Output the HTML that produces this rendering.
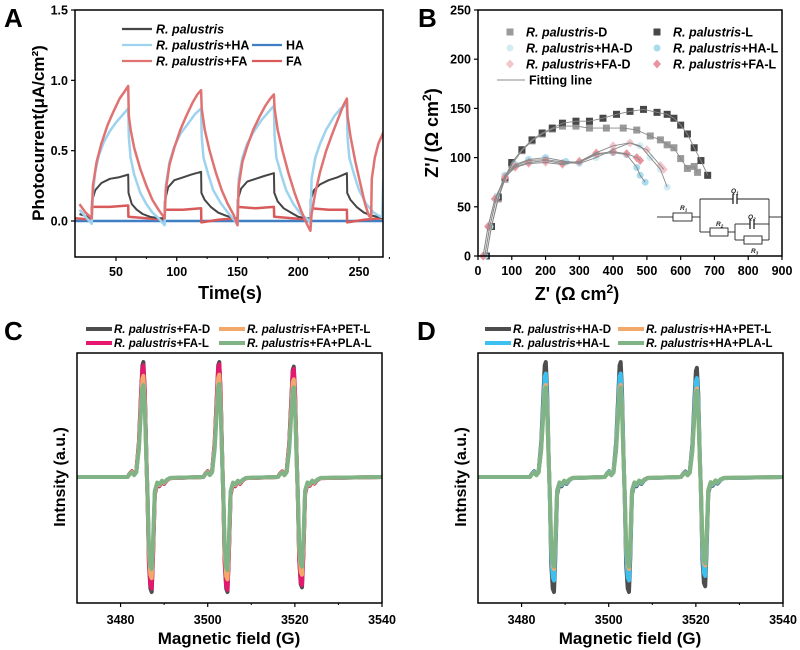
<!DOCTYPE html>
<html><head><meta charset="utf-8">
<style>
body{margin:0;background:#fff;}
svg{display:block;font-family:"Liberation Sans",sans-serif;}
text{font-weight:bold;}
</style></head>
<body>
<svg id="fig" width="800" height="650" viewBox="0 0 800 650">
<defs>
<clipPath id="clipA"><rect x="75" y="10" width="308" height="247"/></clipPath>
</defs>
</svg>
<script>
// ---------- Panel A data ----------
const aTicksX = [50,100,150,200,250];
const aTicksY = [0.0,0.5,1.0,1.5];
const aTickLabelsY = ["0.0","0.5","1.0","1.5"];
const rpData = [[20,0.05],[30,0.02],[30.2,0.14],[33,0.22],[38,0.27],[45,0.3],[52,0.31],[60,0.33],[60.3,0.2],[63,0.12],[67,0.08],[72,0.05],[78,0.03],[85,0.02],[90,0.02],[90.2,0.14],[93,0.24],[98,0.29],[105,0.31],[112,0.33],[120,0.35],[120.3,0.2],[123,0.15],[128,0.1],[134,0.06],[140,0.04],[147,0.02],[150,0.02],[150.2,0.15],[153,0.23],[158,0.28],[165,0.3],[172,0.32],[180,0.34],[180.3,0.2],[183,0.14],[188,0.09],[194,0.06],[200,0.03],[207,0.02],[210,0.02],[210.2,0.15],[213,0.22],[218,0.26],[225,0.29],[232,0.31],[240,0.34],[240.3,0.2],[243,0.15],[248,0.1],[254,0.06],[260,0.04],[270,0.02]];
const rpHaData = [[20,0.08],[25,0.03],[30,-0.02],[31,0.2],[33,0.35],[36,0.47],[40,0.56],[45,0.64],[50,0.7],[55,0.75],[60,0.8],[60.5,0.6],[62,0.45],[65,0.33],[70,0.2],[75,0.12],[80,0.06],[85,0.02],[90,-0.03],[91,0.25],[94,0.42],[98,0.53],[103,0.62],[110,0.7],[115,0.76],[120,0.8],[120.5,0.6],[122,0.45],[126,0.33],[130,0.22],[136,0.13],[142,0.06],[148,0.0],[150,-0.03],[151,0.3],[154,0.45],[158,0.55],[163,0.63],[170,0.72],[175,0.77],[180,0.82],[180.5,0.6],[182,0.45],[186,0.33],[190,0.22],[196,0.12],[202,0.05],[208,0.01],[210,-0.02],[211,0.3],[214,0.45],[218,0.55],[223,0.65],[230,0.75],[235,0.8],[240,0.83],[240.5,0.6],[242,0.45],[246,0.33],[250,0.22],[256,0.12],[262,0.06],[268,0.03],[269,0.03],[270,0.3]];
const rpFaData = [[20,0.12],[25,0.06],[30,0.02],[31,0.25],[34,0.42],[38,0.55],[43,0.68],[48,0.78],[53,0.87],[57,0.92],[60,0.96],[60.5,0.75],[62,0.65],[65,0.52],[70,0.37],[75,0.25],[80,0.15],[85,0.08],[90,0.02],[91,0.22],[94,0.4],[98,0.52],[103,0.65],[108,0.75],[113,0.84],[117,0.9],[120,0.93],[120.5,0.8],[123,0.65],[127,0.5],[132,0.35],[137,0.22],[142,0.12],[147,0.04],[150,-0.03],[151,0.25],[154,0.42],[158,0.53],[163,0.65],[168,0.74],[173,0.82],[177,0.87],[180,0.9],[180.5,0.8],[183,0.65],[187,0.5],[192,0.34],[197,0.2],[202,0.08],[207,-0.02],[210,-0.07],[211,0.05],[214,0.2],[218,0.35],[223,0.5],[228,0.62],[233,0.73],[237,0.82],[240,0.87],[240.5,0.75],[243,0.6],[247,0.42],[251,0.27],[255,0.12],[258,0.04],[260,0.02],[260.5,0.3],[263,0.45],[266,0.55],[270,0.63]];
const faData = [[16,0.02],[30,0.01],[30.2,0.1],[45,0.1],[60,0.11],[60.2,0.03],[75,0.02],[90,0.01],[90.2,0.08],[105,0.08],[120,0.09],[120.2,-0.01],[135,0.01],[150,0.02],[150.2,0.1],[165,0.09],[180,0.1],[180.2,0.03],[195,0.02],[210,0.01],[210.2,0.09],[225,0.08],[240,0.08],[240.2,-0.01],[255,0.01],[270,0.02]];
const haData = [[16,0],[270,0]];

// ---------- Panel B data ----------
const bTicksX = [0,100,200,300,400,500,600,700,800,900];
const bTicksY = [0,50,100,150,200,250];
const rdData = [[25,0],[40,30],[60,58],[80,78],[100,93],[130,107],[160,117],[190,124],[220,129],[250,132],[290,132],[330,130],[380,130],[430,130],[470,128],[510,122],[540,118],[560,113],[580,110],[600,99],[620,89],[640,91],[650,85]];
const rlData = [[25,0],[40,30],[60,60],[80,80],[100,95],[130,108],[160,118],[190,125],[220,130],[250,135],[290,137],[330,137],[370,140],[410,144],[450,147],[490,149],[530,146],[560,144],[580,140],[600,133],[620,124],[640,110],[660,97],[680,82]];
const haDData = [[20,0],[35,30],[55,60],[80,82],[110,92],[150,97],[200,98],[260,95],[300,94],[350,100],[400,108],[450,115],[480,112],[510,100],[540,88],[560,70]];
const haLData = [[20,0],[35,30],[55,60],[80,82],[110,93],[150,98],[200,100],[260,96],[300,95],[350,103],[400,105],[440,103],[470,90],[480,82],[495,75]];
const faDData = [[15,0],[30,30],[50,58],[80,80],[110,90],[150,94],[200,95],[250,93],[300,96],[350,105],[400,112],[450,115],[500,108],[540,92],[550,88]];
const faLData = [[15,0],[30,30],[50,58],[80,80],[110,91],[150,95],[200,97],[250,94],[300,96],[350,104],[400,106],[440,104],[470,100],[480,97]];

// ---------- Panels C/D data ----------
const epTicksX = [3480,3500,3520,3540];
const epShapeDx = [-16,-4.6,-4.1,-3.6,-3.1,-2.6,-2.0,-1.5,-1.2,-0.95,-0.65,-0.3,0,0.3,0.65,0.95,1.25,1.65,2.2,2.7,3.3,3.8,4.4,5.2,16];
const epShapeV  = [0,0,0.03,0.05,0.02,0.05,0.3,0.72,0.97,1,0.75,0.2,-0.2,-0.75,-0.97,-1,-0.7,-0.15,-0.06,-0.08,-0.04,-0.06,-0.03,-0.01,0];
const cCenters = [3486.2,3503.6,3520.7];
const cFaD = [1.0,1.0,0.96];
const cFaL = [0.97,0.98,0.94];
const cFaPet = [0.88,0.89,0.85];
const cFaPla = [0.8,0.81,0.78];
const dCenters = [3486.5,3503.7,3521.2];
const dHaD = [1.0,1.0,0.95];
const dHaL = [0.9,0.9,0.86];
const dHaPet = [0.8,0.8,0.77];
const dHaPla = [0.78,0.78,0.75];

const NS = "http://www.w3.org/2000/svg";
const svg = document.getElementById("fig");
function mk(tag, attrs, parent){
  const e = document.createElementNS(NS, tag);
  for (const k in attrs) e.setAttribute(k, attrs[k]);
  (parent||svg).appendChild(e);
  return e;
}
function txt(s, x, y, size, anchor, parent){
  const t = mk("text", {x:x, y:y, "font-size":size, "text-anchor":anchor||"middle"}, parent);
  t.textContent = s;
  return t;
}
function lin(d0,d1,r0,r1){ return v => r0 + (v-d0)*(r1-r0)/(d1-d0); }

// ================= PANEL A =================
const ax = lin(50,250,116,359), ay = lin(0,1.5,221,10);
{
  const g = mk("g", {});
  
  
  const lab = txt("A", 4, 27, 26, "start", g);
  
  
  const plot = mk("g", {"clip-path":"url(#clipA)"}, g);
  function series(data, color, w, name){
    const p = mk("polyline", {points: data.map(d=>ax(d[0]).toFixed(1)+","+ay(d[1]).toFixed(1)).join(" "), fill:"none", stroke:color, "stroke-width":w, "stroke-linejoin":"round"}, plot);
    
    
  }
  series(haData, "#3f7fc4", 2.5, "ha-line");
  series(faData, "#d95a5a", 2.5, "fa-line");
  series(rpData, "#454545", 2, "r-palustris-line");
  series(rpHaData, "#9dd3ee", 2.5, "r-palustris-ha-line");
  series(rpFaData, "#e07272", 2.5, "r-palustris-fa-line");
  const fr = mk("rect", {x:75, y:10, width:308, height:247, fill:"none", stroke:"#000", "stroke-width":1.5}, g);
  
  
  aTicksY.forEach((v,i)=>{
    mk("line",{x1:71,x2:75,y1:ay(v),y2:ay(v),stroke:"#000","stroke-width":1.2},g);
    const t = txt(aTickLabelsY[i], 68, ay(v)+4.5, 12.5, "end", g);
    
    
  });
  aTicksX.forEach(v=>{
    mk("line",{x1:ax(v),x2:ax(v),y1:257,y2:261,stroke:"#000","stroke-width":1.2},g);
    mk("line",{x1:ax(v+25),x2:ax(v+25),y1:257,y2:259,stroke:"#000","stroke-width":1},g);
    const t = txt(String(v), ax(v), 276, 12.5, "middle", g);
    
    
  });
  const xt = txt("Time(s)", 230, 299, 18, "middle", g);
  
  
  const yt = txt("Photocurrent(μA/cm²)", 0, 0, 17, "middle", g);
  yt.setAttribute("transform","translate(44,133) rotate(-90)");
  
  
  const leg = [[122,29,"#454545","R. palustris",""],[122,45,"#9dd3ee","R. palustris","+HA"],[122,61,"#e07272","R. palustris","+FA"],[252,45,"#3f7fc4","","HA"],[252,61,"#d95a5a","","FA"]];
  leg.forEach(l=>{
    const e = mk("g",{},g);
    
    
    mk("line",{x1:l[0],x2:l[0]+30,y1:l[1],y2:l[1],stroke:l[2],"stroke-width":2.2},e);
    const t = mk("text",{x:l[0]+34,y:l[1]+4.5,"font-size":12.5},e);
    if(l[3]){ const s=mk("tspan",{"font-style":"italic"},t); s.textContent=l[3]; }
    if(l[4]){ const s=mk("tspan",{},t); s.textContent=l[4]; }
  });
}

// ================= PANEL B =================
const bx = lin(0,900,478,782), by = lin(0,250,256,10);
{
  const g = mk("g", {});
  
  
  const lab = txt("B", 418, 27, 26, "start", g);
  
  
  function marker(shape, x, y, color, parent){
    if(shape==="sq") return mk("rect",{x:x-3.5,y:y-3.5,width:7,height:7,fill:color},parent);
    if(shape==="ci") return mk("circle",{cx:x,cy:y,r:3.5,fill:color},parent);
    return mk("polygon",{points:`${x},${y-4.5} ${x+4},${y} ${x},${y+4.5} ${x-4},${y}`,fill:color},parent);
  }
  const sets = [[rdData,"sq","#9a9a9a","r-palustris-d"],[rlData,"sq","#474747","r-palustris-l"],[haDData,"ci","#d3edf4","r-palustris-ha-d"],[haLData,"ci","#a9dcef","r-palustris-ha-l"],[faDData,"di","#f2c6cd","r-palustris-fa-d"],[faLData,"di","#e8949f","r-palustris-fa-l"]];
  sets.forEach(s=>{
    const sg = mk("g",{},g);
    
    
    s[0].forEach(d=>{ marker(s[1], bx(d[0]), by(d[1]), s[2], sg); });
  });
  sets.forEach(s=>{
    const p = mk("polyline",{points:s[0].map(d=>bx(d[0]).toFixed(1)+","+by(d[1]).toFixed(1)).join(" "),fill:"none",stroke:"#888","stroke-width":0.9},g);
    
    
  });
  const fr = mk("rect", {x:478, y:10, width:304, height:246, fill:"none", stroke:"#000", "stroke-width":1.5}, g);
  
  
  bTicksY.forEach(v=>{
    mk("line",{x1:474,x2:478,y1:by(v),y2:by(v),stroke:"#000","stroke-width":1.2},g);
    const t = txt(String(v), 471, by(v)+4.5, 12.5, "end", g);
    
    
  });
  bTicksX.forEach(v=>{
    mk("line",{x1:bx(v),x2:bx(v),y1:256,y2:260,stroke:"#000","stroke-width":1.2},g);
    const t = txt(String(v), bx(v), 275, 12.5, "middle", g);
    
    
  });
  const xt = mk("text",{x:577,y:300,"font-size":18,"text-anchor":"middle"},g);
  xt.innerHTML = 'Z\' (Ω cm<tspan dy="-7" font-size="12">2</tspan><tspan dy="7">)</tspan>';
  
  
  const yt = mk("text",{"font-size":18,"text-anchor":"middle",transform:"translate(438,133) rotate(-90)"},g);
  yt.innerHTML = 'Z\'/ (Ω cm<tspan dy="-7" font-size="12">2</tspan><tspan dy="7">)</tspan>';
  
  
  const leg = [[510,32,"sq","#9a9a9a","-D"],[657,32,"sq","#474747","-L"],[510,48,"ci","#d3edf4","+HA-D"],[657,48,"ci","#a9dcef","+HA-L"],[510,64,"di","#f2c6cd","+FA-D"],[657,64,"di","#e8949f","+FA-L"]];
  leg.forEach(l=>{
    const e = mk("g",{},g);
    
    
    marker(l[2], l[0], l[1], l[3], e);
    const t = mk("text",{x:l[0]+16,y:l[1]+4.5,"font-size":12.5},e);
    const s = mk("tspan",{"font-style":"italic"},t); s.textContent="R. palustris";
    const s2 = mk("tspan",{},t); s2.textContent=l[4];
  });
  const fl = mk("g",{},g);
  
  
  mk("line",{x1:497,x2:525,y1:80,y2:80,stroke:"#888","stroke-width":1},fl);
  txt("Fitting line", 529, 84.5, 12.5, "start", fl);
  // circuit inset
  const c = mk("g",{stroke:"#222","stroke-width":0.9,fill:"none"},g);
  
  
  const wires = [[657,217,673,217],[692,217,700,217],[700,199,700,232],[700,199,733,199],[737,199,769,199],[769,199,769,240],[769,217,782,217],[700,232,710,232],[728,232,735,232],[735,224,735,240],[735,224,750,224],[754,224,769,224],[735,240,744,240],[762,240,769,240]];
  wires.forEach(w=>mk("line",{x1:w[0],y1:w[1],x2:w[2],y2:w[3]},c));
  mk("rect",{x:673,y:213,width:19,height:8,fill:"#fff"},c);
  mk("rect",{x:710,y:228,width:18,height:8,fill:"#fff"},c);
  mk("rect",{x:744,y:236,width:18,height:8,fill:"#fff"},c);
  [[733,194,204],[737,194,204],[750,219,229],[754,219,229]].forEach(p=>mk("line",{x1:p[0],x2:p[0],y1:p[1],y2:p[2],"stroke-width":1.3},c));
  [["R1",680,210],["Q1",731,193],["Q2",748,219],["R2",716,226],["R3",751,253]].forEach(l=>{
    const t = mk("text",{x:l[1],y:l[2],"font-size":6.5,"font-style":"italic",fill:"#222",stroke:"none","font-weight":"normal"},g);
    t.innerHTML = l[0][0]+'<tspan font-size="4.5" dy="1.5">'+l[0][1]+'</tspan>';
  });
}

// ================= PANELS C & D =================
function epPanel(ox, letter, name, centers, seriesList, legend){
  const ex = lin(3470,3540,ox,ox+305), base = 477, amp = 115;
  const g = mk("g", {});
  
  
  const lab = txt(letter, ox-73+ (letter==="D"?12:0) , 340, 26, "start", g);
  
  
  seriesList.forEach(s=>{
    const pts = [[3470,0]];
    centers.forEach((c,i)=>{
      epShapeDx.forEach((dx,j)=>{ if(Math.abs(dx)<16) pts.push([c+dx, epShapeV[j]*s.amps[i]]); });
    });
    pts.push([3540,0]);
    const p = mk("polyline",{points:pts.map(d=>ex(d[0]).toFixed(1)+","+(base-d[1]*amp).toFixed(1)).join(" "),fill:"none",stroke:s.color,"stroke-width":4,"stroke-linejoin":"round"},g);
    
    
  });
  const fr = mk("rect", {x:ox, y:353, width:305, height:250, fill:"none", stroke:"#000", "stroke-width":1.5}, g);
  
  
  epTicksX.forEach(v=>{
    mk("line",{x1:ex(v),x2:ex(v),y1:603,y2:607,stroke:"#000","stroke-width":1.2},g);
    if(v<3540) mk("line",{x1:ex(v+10),x2:ex(v+10),y1:603,y2:605,stroke:"#000","stroke-width":1},g);
    const t = txt(String(v), ex(v), 624, 12.5, "middle", g);
    
    
  });
  const xt = txt("Magnetic field (G)", ox+152, 644, 17, "middle", g);
  
  
  const yt = txt("Intnsity (a.u.)", 0, 0, 16, "middle", g);
  yt.setAttribute("transform",`translate(${ox-12},477) rotate(-90)`);
  
  
  legend.forEach(l=>{
    const e = mk("g",{},g);
    
    
    mk("line",{x1:l[0],x2:l[0]+26,y1:l[1],y2:l[1],stroke:l[2],"stroke-width":4},e);
    const t = mk("text",{x:l[0]+28,y:l[1]+4,"font-size":11.5},e);
    const s = mk("tspan",{"font-style":"italic"},t); s.textContent="R. palustris";
    const s2 = mk("tspan",{},t); s2.textContent=l[3];
  });
}
epPanel(77, "C", "panel-c", cCenters, [
  {name:"fa-d-line", color:"#4d4d4d", amps:cFaD},
  {name:"fa-l-line", color:"#e5176f", amps:cFaL},
  {name:"fa-pet-l-line", color:"#f3a96c", amps:cFaPet},
  {name:"fa-pla-l-line", color:"#80b487", amps:cFaPla}
], [[86,329,"#4d4d4d","+FA-D"],[86,343,"#e5176f","+FA-L"],[219,329,"#f3a96c","+FA+PET-L"],[219,343,"#80b487","+FA+PLA-L"]]);
epPanel(478, "D", "panel-d", dCenters, [
  {name:"ha-d-line", color:"#4d4d4d", amps:dHaD},
  {name:"ha-l-line", color:"#3cc0ef", amps:dHaL},
  {name:"ha-pet-l-line", color:"#f3a96c", amps:dHaPet},
  {name:"ha-pla-l-line", color:"#80b487", amps:dHaPla}
], [[485,329,"#4d4d4d","+HA-D"],[485,343,"#3cc0ef","+HA-L"],[618,329,"#f3a96c","+HA+PET-L"],[618,343,"#80b487","+HA+PLA-L"]]);
</script>
</body></html>
